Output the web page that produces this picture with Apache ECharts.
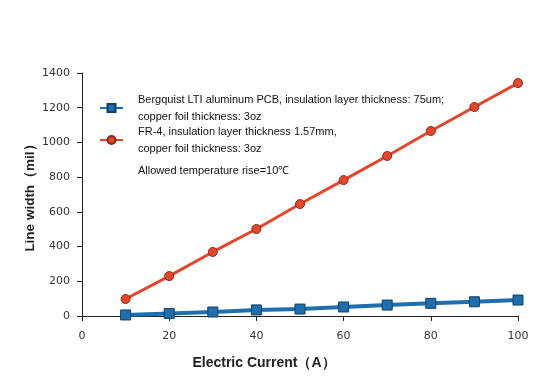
<!DOCTYPE html>
<html><head><meta charset="utf-8">
<script src="https://cdn.jsdelivr.net/npm/echarts@6/dist/echarts.min.js"></script>
<style>html,body{margin:0;padding:0;background:#fff}#c{width:548px;height:392px}</style>
</head><body><div id="c"></div>
<script>
var current = [10, 20, 30, 40, 50, 60, 70, 80, 90, 100];
var bergquist = [6, 15, 23, 35, 40, 52, 63, 73, 82, 92];
var fr4 = [98, 230, 369, 501, 645, 783, 922, 1066, 1204, 1342];
var seriesNames = ['Bergquist LTI aluminum PCB, insulation layer thickness: 75um;\ncopper foil thickness: 3oz',
                   'FR-4, insulation layer thickness 1.57mm,\ncopper foil thickness: 3oz'];
var note = 'Allowed temperature rise=10℃';
var xTitle = 'Electric Current（A）';
var yTitle = 'Line width（mil）';

function pairs(xs, ys){ return xs.map(function(x,i){return [x, ys[i]];}); }
var chart = echarts.init(document.getElementById('c'), null, {renderer:'canvas'});
chart.setOption({
  animation:false,
  backgroundColor:'#fff',
  grid:{left:82,right:30,top:73,bottom:76},
  legend:{
    orient:'vertical', left:99, top:91, itemGap:-2, padding:0,
    itemWidth:23, itemHeight:10,
    textStyle:{fontFamily:'Liberation Sans, Arial', fontSize:11, color:'#111', lineHeight:17, padding:[0,0,0,10]},
    data:[{name:seriesNames[0]},{name:seriesNames[1]}]
  },
  graphic:[{type:'text', left:138, top:165, style:{text:note, fontFamily:'Liberation Sans, Arial', fontSize:11, fill:'#111'}}],
  xAxis:{
    type:'value', min:0, max:100, interval:20,
    name:xTitle, nameLocation:'middle', nameGap:40, nameMoveOverlap:false,
    nameTextStyle:{fontFamily:'Liberation Sans, Arial', fontSize:14, fontWeight:'bold', color:'#222', padding:[0,72,0,0]},
    axisLine:{show:true, lineStyle:{color:'#222', width:1}},
    axisTick:{show:true, length:5, inside:false, lineStyle:{color:'#222'}},
    axisLabel:{fontFamily:'DejaVu Sans', fontSize:11, color:'#333', margin:15, formatter:function(v){return String(v);}},
    splitLine:{show:false}
  },
  yAxis:{
    type:'value', min:0, max:1400, interval:200,
    name:yTitle, nameLocation:'middle', nameGap:45, nameRotate:90, nameMoveOverlap:false,
    nameTextStyle:{fontFamily:'Liberation Sans, Arial', fontSize:13.5, fontWeight:'bold', color:'#222'},
    axisLine:{show:true, lineStyle:{color:'#222', width:1}},
    axisTick:{show:true, length:5, lineStyle:{color:'#222'}},
    axisLabel:{fontFamily:'DejaVu Sans', fontSize:11, color:'#333', margin:12, formatter:function(v){return String(v);}},
    splitLine:{show:false}
  },
  series:[
    {name:seriesNames[0], type:'line', data:pairs(current, bergquist),
     symbol:'rect', symbolSize:10,
     lineStyle:{color:'#1f6fae', width:4},
     itemStyle:{color:'#1f6fae', borderColor:'#123f66', borderWidth:1}},
    {name:seriesNames[1], type:'line', data:pairs(current, fr4),
     symbol:'circle', symbolSize:9,
     lineStyle:{color:'#e2462c', width:3},
     itemStyle:{color:'#e2462c', borderColor:'#8a2a1a', borderWidth:1}}
  ]
});
</script></body></html>
